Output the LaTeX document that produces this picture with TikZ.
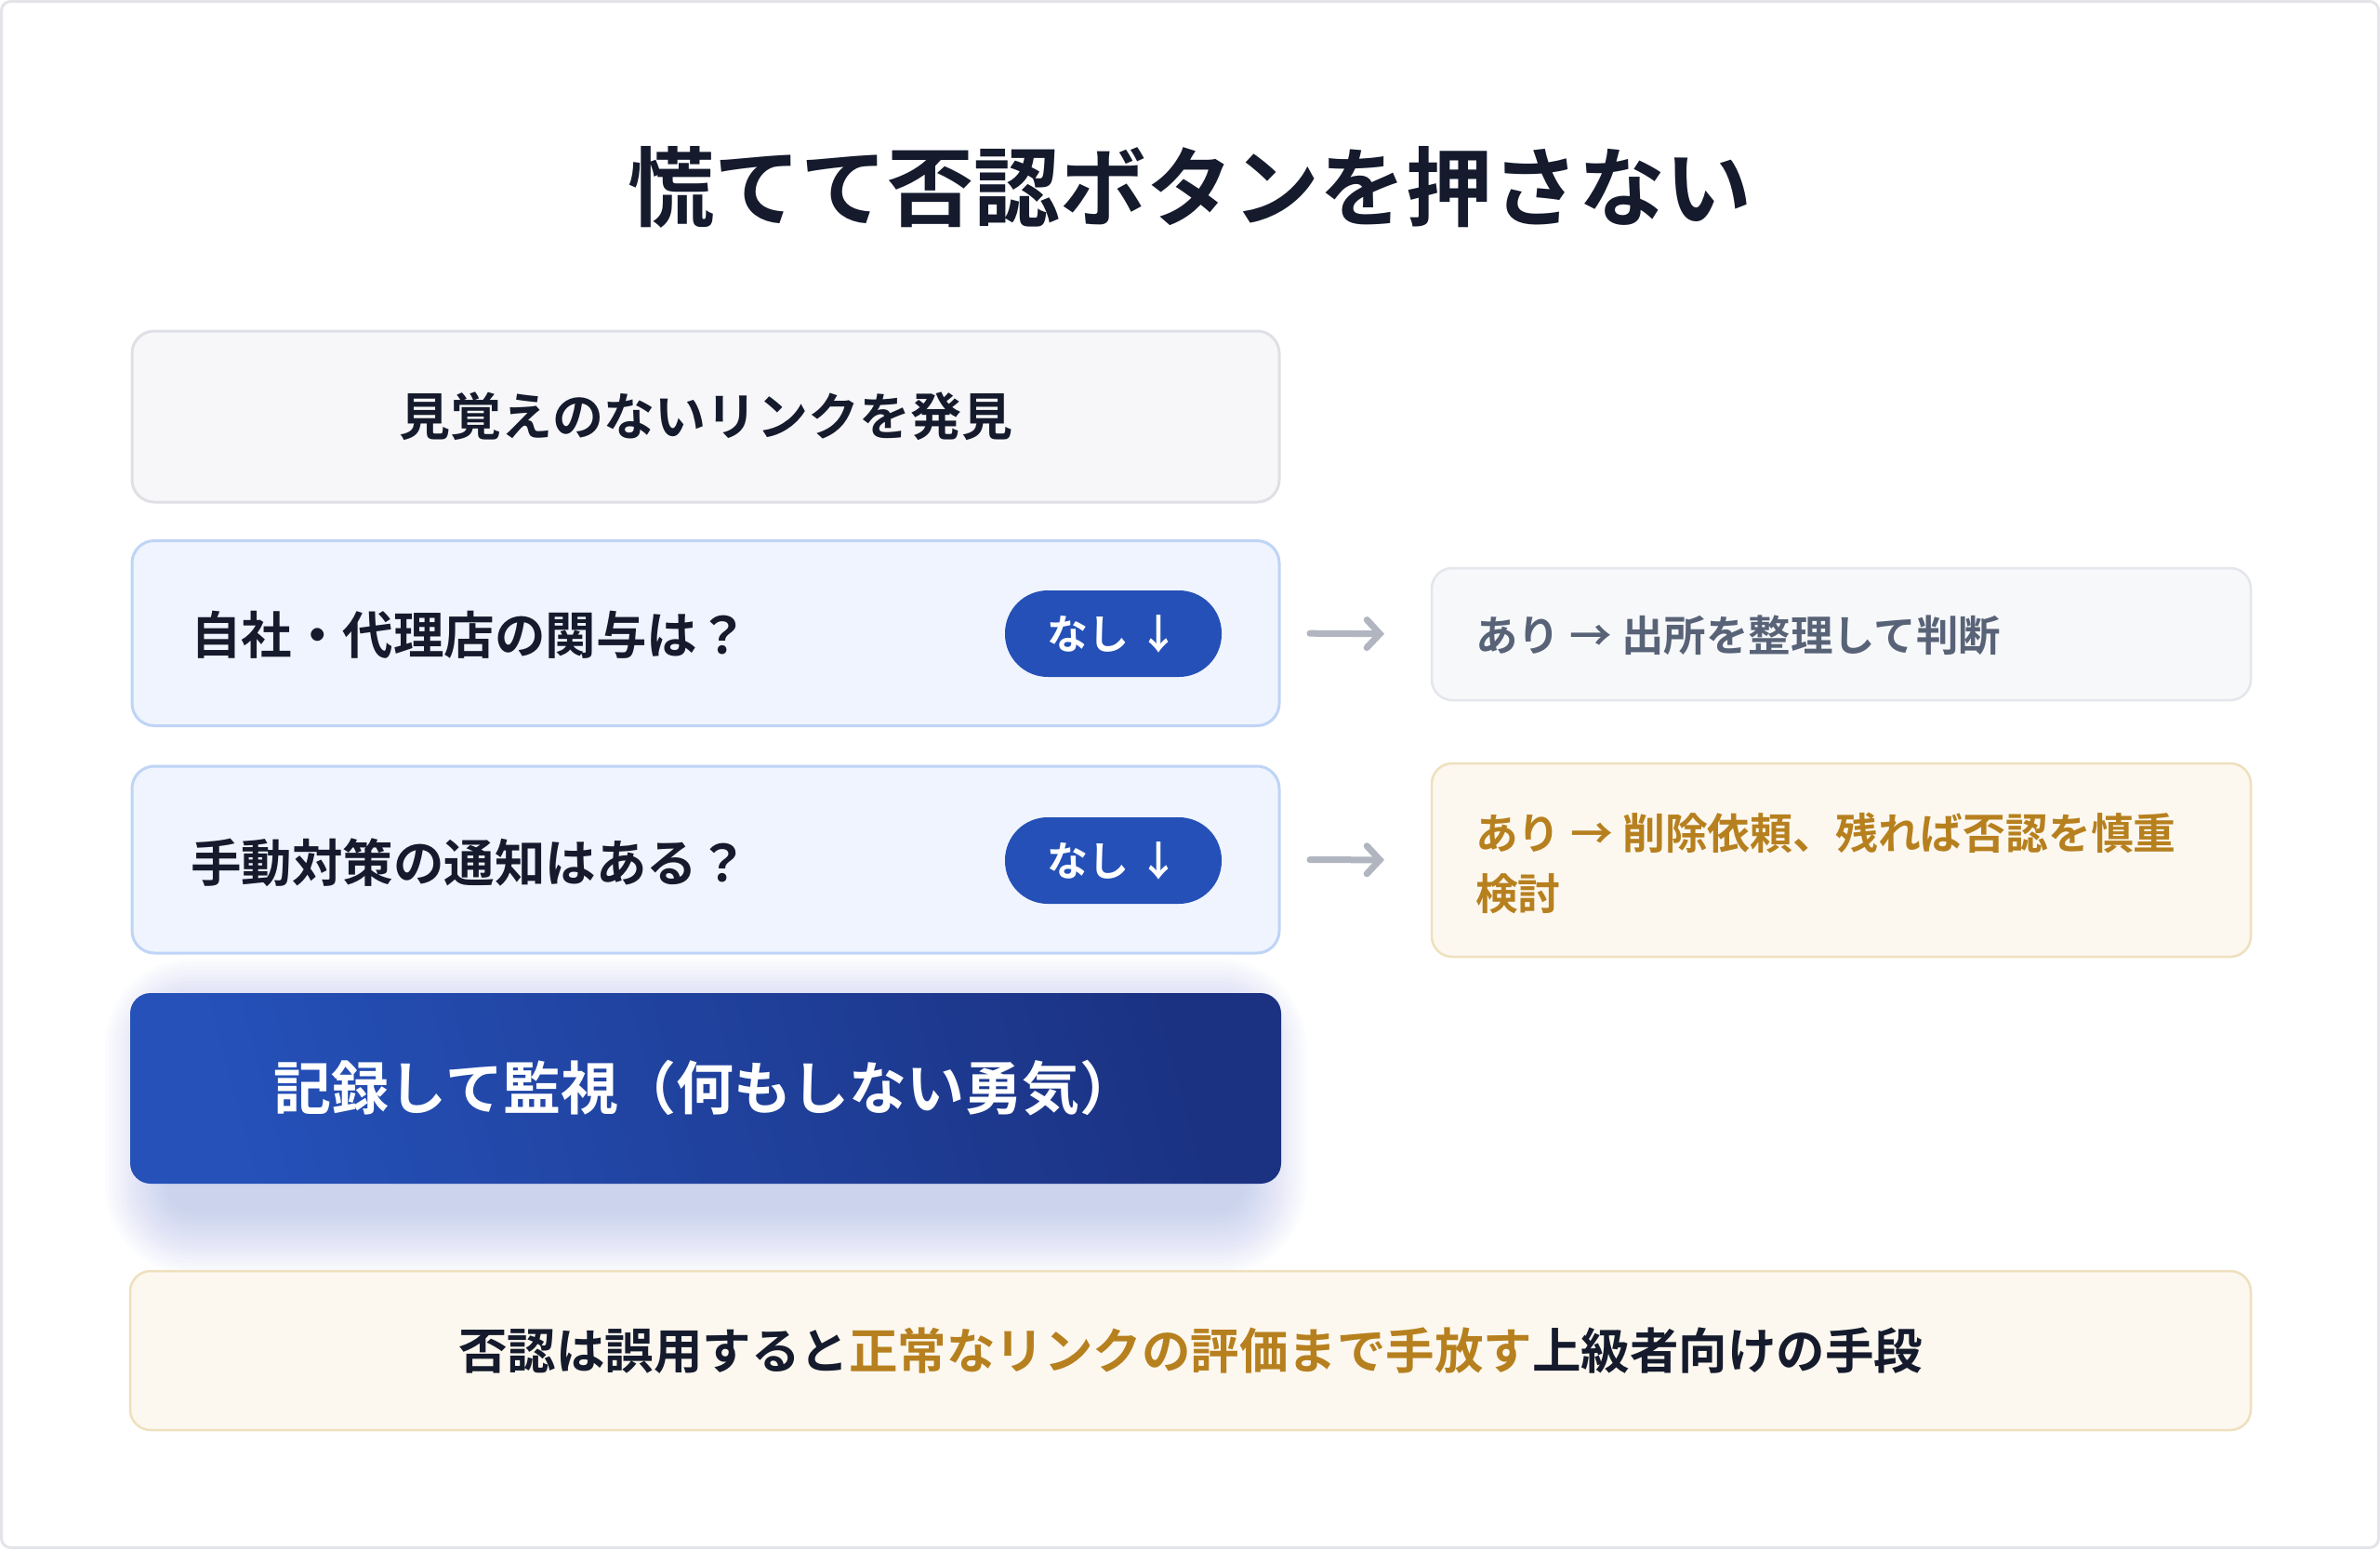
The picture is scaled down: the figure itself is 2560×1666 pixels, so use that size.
\documentclass[tikz,border=0pt]{standalone}
\usepackage{fontspec}
\setmainfont{Noto Sans CJK JP}[BoldFont=* Bold]
\usetikzlibrary{arrows.meta}
\definecolor{ink}{HTML}{151B2D}
\definecolor{framec}{HTML}{E3E4E8}
\definecolor{greyfill}{HTML}{F7F7F9}
\definecolor{greyline}{HTML}{DFE0E5}
\definecolor{bluefill}{HTML}{EFF4FE}
\definecolor{blueline}{HTML}{BFD4F6}
\definecolor{pillc}{HTML}{2450B7}
\definecolor{arrc}{HTML}{B1B5BF}
\definecolor{r1fill}{HTML}{F7F8FA}
\definecolor{r1line}{HTML}{E4E6EB}
\definecolor{r1text}{HTML}{596377}
\definecolor{goldfill}{HTML}{FCF8EF}
\definecolor{goldline}{HTML}{EFE0BD}
\definecolor{goldtext}{HTML}{B7801F}
\definecolor{darkA}{HTML}{2551B9}
\definecolor{darkB}{HTML}{1B3282}
\definecolor{shadowc}{HTML}{7D93D6}
\begin{document}
\begin{tikzpicture}[x=1pt,y=-1pt,
  every node/.style={inner sep=0pt, outer sep=0pt},
  greybox/.style={draw=greyline, fill=greyfill, line width=3pt, rounded corners=24pt},
  bluebox/.style={draw=blueline, fill=bluefill, line width=3pt, rounded corners=24pt},
  sidegrey/.style={draw=r1line, fill=r1fill, line width=2.5pt, rounded corners=22pt},
  goldbox/.style={draw=goldline, fill=goldfill, line width=2.5pt, rounded corners=22pt},
  pill/.style={fill=pillc, rounded corners=46pt, minimum width=233pt, minimum height=93pt, text=white, font=\fontsize{44}{52}\selectfont\bfseries},
  qtext/.style={anchor=west, text=ink, font=\fontsize{54.5}{64}\selectfont\bfseries},
  arr/.style={draw=arrc, line width=7pt, line cap=round, -{Straight Barb[length=14pt, width=30pt, line cap=round]}},
]
\useasboundingbox (0,0) rectangle (2560,1666);
\fill[white] (0,0) rectangle (2560,1666);
\draw[framec, line width=3pt, rounded corners=10pt] (1.5,1.5) rectangle (2558.5,1664.5);

% title
\node[text=ink, font=\fontsize{93}{110}\selectfont\bfseries] (title) at (1280,201) {慌てて否認ボタンを押さない};

% box 1
\node[greybox, minimum width=1234pt, minimum height=184pt, text=ink, font=\fontsize{55}{66}\selectfont\bfseries] (b1) at (759,448) {見覚えのないリンクを発見};

% box 2
\node[bluebox, minimum width=1234pt, minimum height=199pt] (b2) at (759,681) {};
\node[qtext] (q1) at (205,683) {自社・代理店の関与は？};
\node[pill] (p1) at (1197.5,681.5) {なし ↓};

% right box 1
\node[sidegrey, minimum width=881pt, minimum height=142pt] (r1) at (1980.5,682) {};
\node[anchor=west, text=r1text, font=\fontsize{45.5}{54}\selectfont\bfseries] (r1t) at (1587,683) {あり → 出所を整理して判断};
\draw[arr, shorten <=33pt, shorten >=51pt] (b2.east) -- (r1.west);

% box 3
\node[bluebox, minimum width=1234pt, minimum height=201pt] (b3) at (759,924.5) {};
\node[qtext] (q2) at (205,928) {手動対策の通知はある？};
\node[pill] (p2) at (1197.5,925.5) {なし ↓};

% right box 2
\node[goldbox, minimum width=881pt, minimum height=208pt] (r2) at (1980.5,925) {};
\node[anchor=west, align=left, text=goldtext, font=\fontsize{45.8}{65}\selectfont\bfseries] (r2t) at (1587,928) {あり → 削除依頼、残れば否認を慎重\\検討};
\draw[arr, shorten <=33pt, shorten >=51pt] (b3.east) -- (r2.west);

% shadow of the final box
\foreach \i in {1,...,18} {
  \pgfmathsetmacro{\d}{4*\i}
  \fill[shadowc, opacity=0.025, rounded corners=22+\d] ({140-\d+45},{1068+35-\d}) rectangle ({1378+\d-45},{1273+25+\d});
}
% final box
\shade[left color=darkA, right color=darkB, shading angle=105, rounded corners=22pt] (140,1068) rectangle (1378,1273);
\node[minimum width=1238pt, minimum height=205pt, text=white, font=\fontsize{62}{74}\selectfont\bfseries] (b4) at (759,1170.5) {記録して監視（何もしない勇気）};

% bottom note
\node[goldbox, minimum width=2281pt, minimum height=171pt, text=ink, font=\fontsize{52.5}{62}\selectfont\bfseries] (b5) at (1280.5,1452.5) {否認は誤用すると\textcolor{goldtext}{正常なリンクの評価まで手放す}上級者向けの手段};
\end{tikzpicture}
\end{document}
